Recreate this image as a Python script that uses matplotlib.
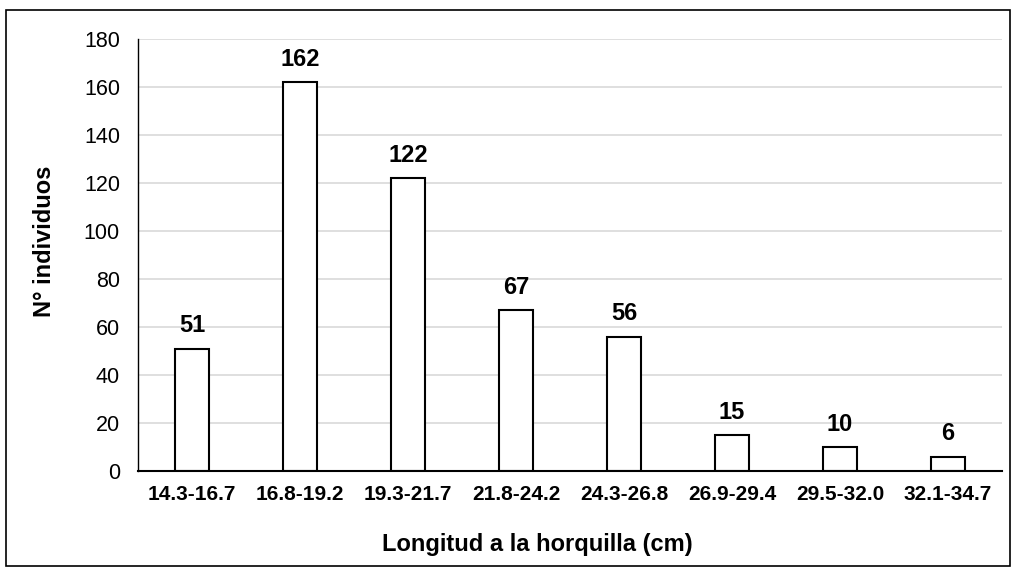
import matplotlib
matplotlib.use("Agg")
import matplotlib.pyplot as plt
from matplotlib.patches import Rectangle

categories = ["14.3-16.7", "16.8-19.2", "19.3-21.7", "21.8-24.2",
              "24.3-26.8", "26.9-29.4", "29.5-32.0", "32.1-34.7"]
values = [51, 162, 122, 67, 56, 15, 10, 6]
yticks = [0, 20, 40, 60, 80, 100, 120, 140, 160, 180]

plt.rcParams['font.family'] = ['Liberation Sans', 'DejaVu Sans']

fig = plt.figure(figsize=(10.14, 5.68), dpi=100)
ax = fig.add_axes([138/1014, 1-471/568, (1002-138)/1014, (471-39)/568])

x = list(range(len(categories)))
ax.bar(x, values, width=0.315, color='white', edgecolor='black', linewidth=1.5, zorder=3)
for xi, v in zip(x, values):
    ax.annotate(str(v), (xi, v), xytext=(0, 8), textcoords='offset points',
                ha='center', va='bottom', fontsize=17, fontweight='bold')

ax.set_xlim(-0.5, len(categories)-0.5)
ax.set_ylim(0, 180)
ax.set_yticks(yticks)
ax.set_xticks(x)
ax.set_xticklabels(categories, fontweight='bold', fontsize=15)
ax.tick_params(axis='y', labelsize=15.5, length=0, pad=13)
ax.tick_params(axis='x', length=0, pad=10)
ax.grid(axis='y', color='#d9d9d9', linewidth=1.2, zorder=0)
for s in ['top', 'right']:
    ax.spines[s].set_visible(False)
ax.spines['left'].set_color('black')
ax.spines['left'].set_linewidth(1.0)
ax.spines['bottom'].set_color('black')
ax.spines['bottom'].set_linewidth(1.5)
ax.spines['bottom'].set_zorder(4)

fig.text(537/1014, 1-545/568, "Longitud a la horquilla (cm)", ha='center', va='center',
         fontsize=17, fontweight='bold')
fig.text(45/1014, 1-241/568, "N° individuos", ha='center', va='center', rotation=90,
         fontsize=17, fontweight='bold')

fig.patches.append(Rectangle((6/1014, 1-566/568), (1010-6)/1014, (566-10)/568,
                             transform=fig.transFigure, fill=False, edgecolor='black',
                             linewidth=1.2))

fig.savefig("out.png", dpi=100)
